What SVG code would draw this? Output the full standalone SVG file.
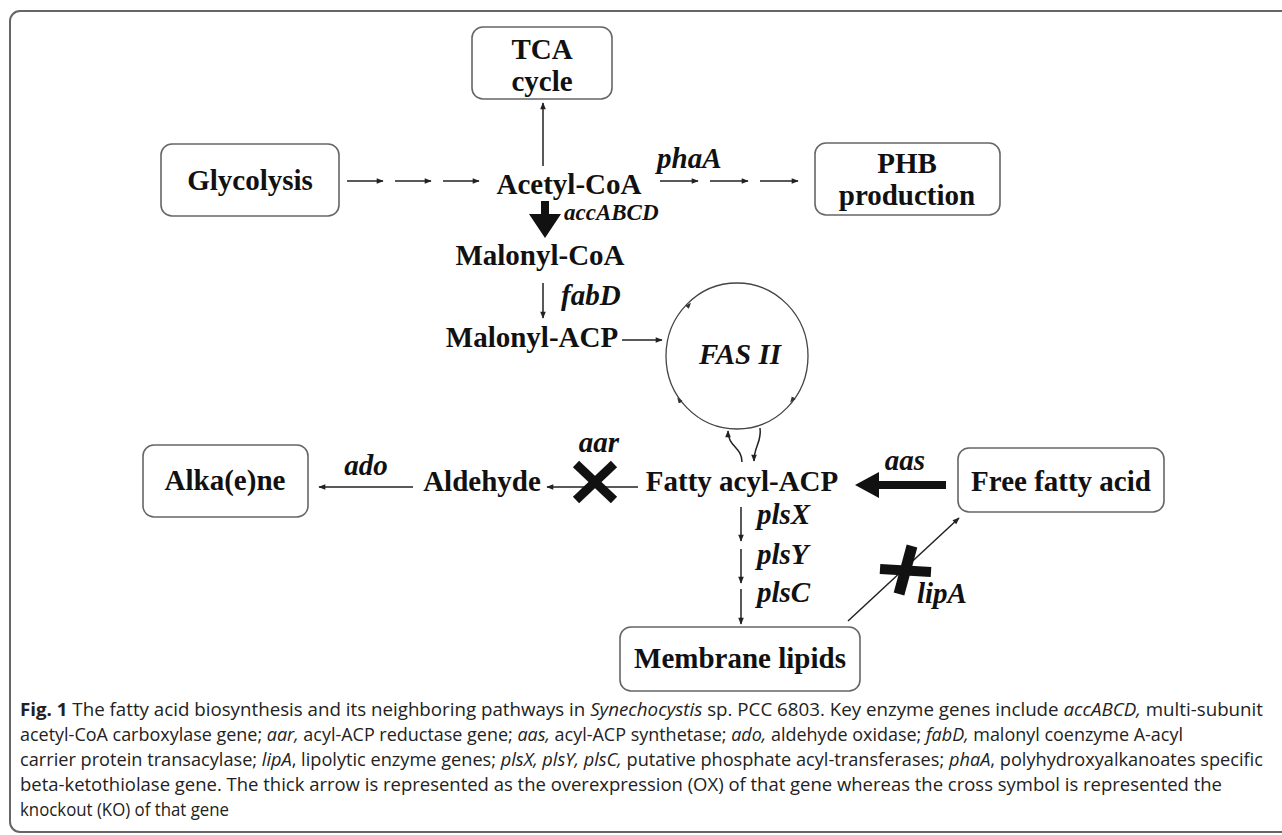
<svg xmlns="http://www.w3.org/2000/svg" width="1282" height="835" viewBox="0 0 1282 835">
<style>
.box{fill:#fff;stroke:#666;stroke-width:1.6}
.lbl{font-family:"Liberation Serif","Times New Roman",serif;font-weight:bold;font-size:29px;fill:#111;text-anchor:middle}
.gene{font-family:"Liberation Serif","Times New Roman",serif;font-weight:bold;font-style:italic;font-size:29px;fill:#111}
.sm{font-size:23px}
.ln{stroke:#222;stroke-width:1.5;fill:none}
.cap{font-family:"Open Sans",sans-serif;font-size:18px;fill:#222}
</style>
<defs>
<marker id="ah" viewBox="0 0 10 10" refX="9" refY="5" markerWidth="8" markerHeight="7" markerUnits="userSpaceOnUse" orient="auto"><path d="M0,1 L10,5 L0,9 Z" fill="#222"/></marker>
<marker id="ahs" viewBox="0 0 10 10" refX="5" refY="5" markerWidth="6" markerHeight="6" markerUnits="userSpaceOnUse" orient="auto"><path d="M0,1 L10,5 L0,9 Z" fill="#333"/></marker>
</defs>
<rect x="10" y="11" width="1300" height="821" rx="10" fill="none" stroke="#666" stroke-width="2"/>
<g id="tca"><rect class="box" x="472" y="27" width="140" height="72" rx="11"/><text class="lbl" x="542" y="59">TCA</text><text class="lbl" x="542" y="91">cycle</text></g>
<g id="glycolysis"><rect class="box" x="161" y="144" width="178" height="72" rx="11"/><text class="lbl" x="250" y="190">Glycolysis</text></g>
<g id="acetyl"><text class="lbl" x="569" y="194">Acetyl-CoA</text></g>
<g id="phb"><rect class="box" x="815" y="143" width="185" height="72" rx="11"/><text class="lbl" x="907" y="173">PHB</text><text class="lbl" x="907" y="205">production</text></g>
<g id="malcoa"><text class="lbl" x="540" y="265">Malonyl-CoA</text></g>
<g id="malacp"><text class="lbl" x="532" y="347">Malonyl-ACP</text></g>
<g id="fas"><ellipse cx="737" cy="356" rx="71" ry="73" fill="none" stroke="#444" stroke-width="1.3"/><text class="lbl" x="740" y="364" style="font-style:italic">FAS II</text>
<path class="ln" d="M687.6,306.6 L689,305" stroke-width="1" marker-end="url(#ahs)"/>
<path class="ln" d="M680.2,401.6 L679,400" stroke-width="1" marker-end="url(#ahs)"/>
<path class="ln" d="M793.2,398.4 L792,400" stroke-width="1" marker-end="url(#ahs)"/>
</g>
<g id="fatty"><text class="lbl" x="742" y="491">Fatty acyl-ACP</text></g>
<g id="aldehyde"><text class="lbl" x="482" y="491">Aldehyde</text></g>
<g id="alkene"><rect class="box" x="143" y="445" width="165" height="72" rx="11"/><text class="lbl" x="225" y="490">Alka(e)ne</text></g>
<g id="ffa"><rect class="box" x="958" y="448" width="206" height="64" rx="11"/><text class="lbl" x="1061" y="491">Free fatty acid</text></g>
<g id="membrane"><rect class="box" x="620" y="627" width="240" height="64" rx="11"/><text class="lbl" x="740" y="668">Membrane lipids</text></g>
<g id="connectors">
<line class="ln" x1="543" y1="166" x2="543" y2="103" marker-end="url(#ah)"/>
<line class="ln" x1="347" y1="181" x2="383" y2="181" marker-end="url(#ah)"/>
<line class="ln" x1="395" y1="181" x2="431" y2="181" marker-end="url(#ah)"/>
<line class="ln" x1="443" y1="181" x2="479" y2="181" marker-end="url(#ah)"/>
<line class="ln" x1="660" y1="181" x2="698" y2="181" marker-end="url(#ah)"/>
<line class="ln" x1="710" y1="181" x2="748" y2="181" marker-end="url(#ah)"/>
<line class="ln" x1="760" y1="181" x2="798" y2="181" marker-end="url(#ah)"/>
<path d="M541,201 H549 V214 H561 L545,238 L529,214 H541 Z" fill="#111"/>
<line class="ln" x1="543" y1="283" x2="543" y2="318" marker-end="url(#ah)"/>
<line class="ln" x1="622" y1="340" x2="662" y2="340" marker-end="url(#ah)"/>
<path class="ln" d="M742,462 C742,447 728,447 728,431" marker-end="url(#ah)"/>
<path class="ln" d="M760,428 C762,442 754,446 754,461" marker-end="url(#ah)"/>
<line class="ln" x1="638" y1="487" x2="547" y2="487" marker-end="url(#ah)"/>
<line class="ln" x1="413" y1="487" x2="319" y2="487" marker-end="url(#ah)"/>
<path d="M946,481 H879 V472 L855,485 L879,498 V489 H946 Z" fill="#111"/>
<line class="ln" x1="741" y1="507" x2="741" y2="541" marker-end="url(#ah)"/>
<line class="ln" x1="741" y1="549" x2="741" y2="583" marker-end="url(#ah)"/>
<line class="ln" x1="741" y1="589" x2="741" y2="624" marker-end="url(#ah)"/>
<line class="ln" x1="848" y1="621" x2="959" y2="518" marker-end="url(#ah)"/>
</g>
<g id="knockouts" stroke="#111" stroke-width="9" stroke-linecap="butt">
<line x1="576" y1="464" x2="614" y2="500"/><line x1="614" y1="464" x2="576" y2="500"/>
<line x1="912" y1="546" x2="899" y2="594" stroke-width="11"/><line x1="880" y1="569" x2="931" y2="572" stroke-width="10"/>
</g>
<g id="genes">
<text class="gene" x="657" y="168">phaA</text>
<text class="gene sm" x="564" y="220">accABCD</text>
<text class="gene" x="561" y="305" font-size="24">fabD</text>
<text class="gene" x="599" y="452" text-anchor="middle">aar</text>
<text class="gene" x="366" y="475" text-anchor="middle">ado</text>
<text class="gene" x="905" y="470" text-anchor="middle">aas</text>
<text class="gene" x="757" y="524" font-size="24">plsX</text>
<text class="gene" x="757" y="564" font-size="24">plsY</text>
<text class="gene" x="757" y="602" font-size="24">plsC</text>
<text class="gene" x="917" y="603">lipA</text>
</g>
<g id="caption" class="cap">
<text x="20" y="716" textLength="1243" lengthAdjust="spacingAndGlyphs"><tspan font-weight="bold">Fig. 1</tspan>  The fatty acid biosynthesis and its neighboring pathways in <tspan font-style="italic">Synechocystis</tspan> sp. PCC 6803. Key enzyme genes include <tspan font-style="italic">accABCD,</tspan> multi-subunit</text>
<text x="20" y="741" textLength="1163" lengthAdjust="spacingAndGlyphs">acetyl-CoA carboxylase gene; <tspan font-style="italic">aar,</tspan> acyl-ACP reductase gene; <tspan font-style="italic">aas,</tspan> acyl-ACP synthetase; <tspan font-style="italic">ado,</tspan> aldehyde oxidase; <tspan font-style="italic">fabD,</tspan> malonyl coenzyme A-acyl</text>
<text x="20" y="766" textLength="1243" lengthAdjust="spacingAndGlyphs">carrier protein transacylase; <tspan font-style="italic">lipA</tspan>, lipolytic enzyme genes; <tspan font-style="italic">plsX, plsY, plsC,</tspan> putative phosphate acyl-transferases; <tspan font-style="italic">phaA</tspan>, polyhydroxyalkanoates specific</text>
<text x="20" y="791" textLength="1202" lengthAdjust="spacingAndGlyphs">beta-ketothiolase gene. The thick arrow is represented as the overexpression (OX) of that gene whereas the cross symbol is represented the</text>
<text x="20" y="816" textLength="209" lengthAdjust="spacingAndGlyphs">knockout (KO) of that gene</text>
</g>
</svg>
